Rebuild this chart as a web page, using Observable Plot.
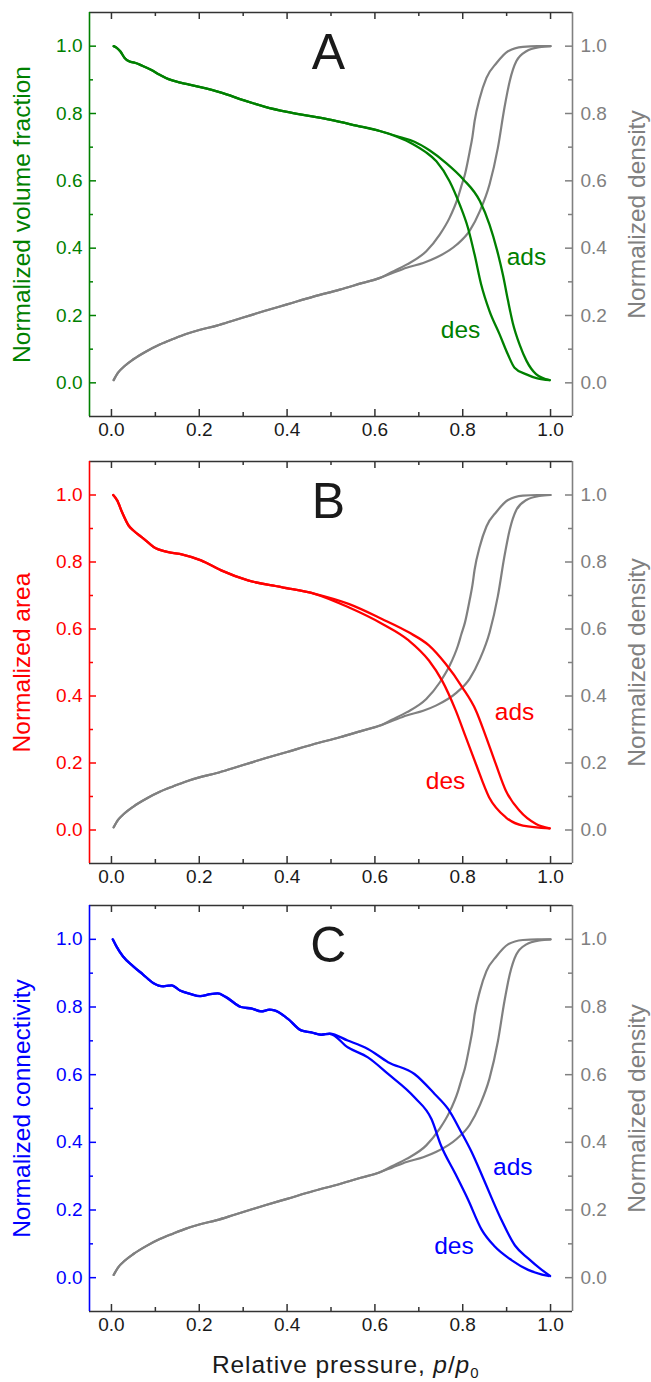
<!DOCTYPE html>
<html><head><meta charset="utf-8">
<script src="https://cdn.jsdelivr.net/npm/d3@7"></script>
<script src="https://cdn.jsdelivr.net/npm/@observablehq/plot@0.6"></script>
<style>
body{margin:0;background:#fff;font-family:"Liberation Sans",Arial,sans-serif;}
#wrap{width:651px;position:relative;}
#wrap svg{display:block;}
#xtitle{position:relative;height:35px;width:651px;font-size:24.5px;line-height:35px;color:#1a1a1a;letter-spacing:0.9px;}
#xtitle span{position:absolute;left:212px;top:0;white-space:nowrap;}
#xtitle sub{font-size:15px;vertical-align:-5px;line-height:0;}
</style></head><body><div id="wrap"></div>
<script>
// ---- axes ----
const xDomain = [-0.05, 1.05];
const yDomain = [-0.1, 1.1];
const xTicks = [0, 0.2, 0.4, 0.6, 0.8, 1.0];
const xMinor = [0.1, 0.3, 0.5, 0.7, 0.9];
const yTicks = [0, 0.2, 0.4, 0.6, 0.8, 1.0];
const yMinor = [0.1, 0.3, 0.5, 0.7, 0.9];
const panelLetters = ["A", "B", "C"];
const leftTitles = ["Normalized volume fraction", "Normalized area", "Normalized connectivity"];
const rightTitle = "Normalized density";
const xTitle = "Relative pressure, ";

// ---- normalized density (grey, same in all panels) ----
const densityShared = [[0.005,0.008],[0.015,0.03],[0.03,0.05],[0.05,0.07],[0.08,0.094],[0.11,0.114],[0.14,0.13],[0.17,0.145],[0.2,0.157],[0.24,0.17],[0.28,0.186],[0.32,0.202],[0.35,0.214],[0.4,0.233],[0.46,0.256],[0.52,0.277],[0.57,0.296],[0.61,0.311]];
const densityDes = [[0.64,0.33],[0.672,0.351],[0.717,0.391],[0.748,0.441],[0.77,0.49],[0.789,0.55],[0.797,0.585],[0.805,0.619],[0.816,0.688],[0.822,0.73],[0.827,0.777],[0.839,0.847],[0.854,0.906],[0.877,0.95],[0.903,0.985],[0.937,0.998],[0.97,1.0],[1.0,1.0]];
const densityAds = [[0.64,0.326],[0.672,0.342],[0.71,0.356],[0.74,0.372],[0.786,0.41],[0.816,0.452],[0.839,0.51],[0.861,0.589],[0.88,0.698],[0.895,0.817],[0.907,0.896],[0.922,0.955],[0.945,0.985],[0.975,0.997],[1.0,1.0]];

// ---- panel A: volume fraction ----
const volumeShared = [[0.005,1.0],[0.012,0.995],[0.02,0.985],[0.03,0.965],[0.04,0.955],[0.055,0.95],[0.07,0.942],[0.09,0.93],[0.11,0.915],[0.13,0.902],[0.157,0.892],[0.18,0.885],[0.2,0.879],[0.25,0.862],[0.3,0.84],[0.35,0.82],[0.4,0.805],[0.45,0.793],[0.5,0.781],[0.558,0.764],[0.611,0.748]];
const volumeDes = [[0.65,0.731],[0.687,0.709],[0.715,0.686],[0.74,0.658],[0.77,0.599],[0.793,0.53],[0.812,0.46],[0.827,0.381],[0.842,0.292],[0.861,0.213],[0.884,0.144],[0.903,0.084],[0.918,0.045],[0.945,0.025],[0.97,0.013],[0.998,0.008]];
const volumeAds = [[0.657,0.73],[0.69,0.716],[0.725,0.69],[0.763,0.652],[0.801,0.605],[0.839,0.54],[0.861,0.47],[0.878,0.395],[0.892,0.318],[0.903,0.245],[0.914,0.178],[0.93,0.112],[0.945,0.066],[0.967,0.026],[0.998,0.008]];

// ---- panel B: area ----
const areaShared = [[0.004,1.0],[0.013,0.984],[0.024,0.949],[0.039,0.909],[0.05,0.894],[0.073,0.87],[0.096,0.845],[0.127,0.83],[0.162,0.822],[0.204,0.805],[0.25,0.775],[0.311,0.745],[0.387,0.725],[0.463,0.705]];
const areaDes = [[0.54,0.665],[0.616,0.616],[0.677,0.566],[0.723,0.506],[0.753,0.446],[0.784,0.357],[0.807,0.277],[0.83,0.197],[0.86,0.098],[0.898,0.038],[0.937,0.013],[0.998,0.005]];
const areaAds = [[0.54,0.675],[0.616,0.63],[0.677,0.59],[0.723,0.551],[0.761,0.496],[0.799,0.426],[0.83,0.357],[0.852,0.282],[0.875,0.198],[0.898,0.118],[0.929,0.058],[0.967,0.018],[0.998,0.005]];

// ---- panel C: connectivity ----
const connShared = [[0.003,1.0],[0.011,0.98],[0.026,0.95],[0.049,0.921],[0.072,0.896],[0.095,0.871],[0.118,0.861],[0.13,0.863],[0.137,0.864],[0.156,0.849],[0.179,0.839],[0.202,0.832],[0.225,0.838],[0.242,0.84],[0.26,0.83],[0.295,0.8],[0.32,0.795],[0.341,0.787],[0.36,0.792],[0.371,0.79],[0.402,0.765],[0.432,0.731],[0.455,0.725],[0.478,0.718],[0.497,0.721]];
const connDes = [[0.538,0.681],[0.584,0.651],[0.63,0.602],[0.69,0.533],[0.729,0.468],[0.751,0.389],[0.782,0.31],[0.812,0.231],[0.843,0.142],[0.873,0.092],[0.911,0.052],[0.949,0.023],[0.995,0.005]];
const connAds = [[0.538,0.701],[0.584,0.676],[0.63,0.637],[0.69,0.602],[0.736,0.543],[0.767,0.498],[0.797,0.429],[0.82,0.372],[0.843,0.305],[0.865,0.238],[0.888,0.171],[0.919,0.095],[0.949,0.057],[0.98,0.023],[0.999,0.005]];

// ---- curve labels (ads, des) and panel letter positions ----
const labelsA = [{t:"ads",x:0.945,y:0.372},{t:"des",x:0.795,y:0.157}];
const labelsB = [{t:"ads",x:0.918,y:0.351},{t:"des",x:0.761,y:0.147}];
const labelsC = [{t:"ads",x:0.914,y:0.327},{t:"des",x:0.78,y:0.092}];
const letterPos = {x:0.494, y:0.98};

const GREY = "#808080", DARK = "#333";
const FONT = "'Liberation Sans', Arial, sans-serif";

function panel({shared, des, ads, color, letter, title, labels, marginTop, frameH, marginBottom}) {
  const marginLeft = 89, marginRight = 79, width = 651;
  const W = width - marginLeft - marginRight;
  const H = frameH;
  const fmt = d3.format(".1f");
  const px = d => d[0], py = d => d[1];
  return Plot.plot({
    width, height: marginTop + H + marginBottom,
    marginLeft, marginRight, marginTop, marginBottom,
    x: {domain: xDomain, label: null},
    y: {domain: yDomain, label: null},
    style: {fontFamily: FONT, fontSize: "19px", background: "white", overflow: "visible"},
    marks: [
      // grey density curves
      Plot.line(densityShared.concat(densityDes), {x: px, y: py, stroke: GREY, strokeWidth: 2.2, curve: "monotone-x"}),
      Plot.line(densityShared.concat(densityAds), {x: px, y: py, stroke: GREY, strokeWidth: 2.2, curve: "monotone-x"}),
      // coloured curves
      Plot.line(shared.concat(des), {x: px, y: py, stroke: color, strokeWidth: 2.3, curve: "monotone-x"}),
      Plot.line(shared.concat(ads), {x: px, y: py, stroke: color, strokeWidth: 2.3, curve: "monotone-x"}),
      // frame
      Plot.ruleY([yDomain[0], yDomain[1]], {stroke: DARK, strokeWidth: 1.6}),
      Plot.ruleX([xDomain[0]], {stroke: color, strokeWidth: 1.6}),
      Plot.ruleX([xDomain[1]], {stroke: GREY, strokeWidth: 1.6}),
      // inward ticks: bottom & top
      Plot.tickX(xTicks, {x: d => d, insetTop: H - 7, stroke: DARK, strokeWidth: 1.5}),
      Plot.tickX(xMinor, {x: d => d, insetTop: H - 4, stroke: DARK, strokeWidth: 1.5}),
      Plot.tickX(xTicks, {x: d => d, insetBottom: H - 7, stroke: DARK, strokeWidth: 1.5}),
      Plot.tickX(xMinor, {x: d => d, insetBottom: H - 4, stroke: DARK, strokeWidth: 1.5}),
      // inward ticks: left & right
      Plot.tickY(yTicks, {y: d => d, insetRight: W - 7, stroke: color, strokeWidth: 1.5}),
      Plot.tickY(yMinor, {y: d => d, insetRight: W - 4, stroke: color, strokeWidth: 1.5}),
      Plot.tickY(yTicks, {y: d => d, insetLeft: W - 7, stroke: GREY, strokeWidth: 1.5}),
      Plot.tickY(yMinor, {y: d => d, insetLeft: W - 4, stroke: GREY, strokeWidth: 1.5}),
      // tick labels
      Plot.axisX(xTicks, {anchor: "bottom", tickSize: 0, tickPadding: 6, tickFormat: fmt, color: "#1a1a1a", fontSize: 19, label: null}),
      Plot.axisY(yTicks, {anchor: "left", tickSize: 0, tickPadding: 7, tickFormat: fmt, color, fontSize: 19, label: null}),
      Plot.axisY(yTicks, {anchor: "right", tickSize: 0, tickPadding: 8, tickFormat: fmt, color: GREY, fontSize: 19, label: null}),
      // axis titles
      Plot.text([title], {text: d => d, frameAnchor: "left", textAnchor: "middle", lineAnchor: "middle", rotate: -90, dx: -67, fill: color, fontSize: 24.5}),
      Plot.text([rightTitle], {text: d => d, frameAnchor: "right", textAnchor: "middle", lineAnchor: "middle", rotate: -90, dx: 65, fill: GREY, fontSize: 24.5}),
      // curve labels
      Plot.text(labels, {x: "x", y: "y", text: "t", fill: color, fontSize: 24.5}),
      // panel letter
      Plot.text([letter], {x: () => letterPos.x, y: () => letterPos.y, text: d => d, fill: "#1a1a1a", fontSize: 50})
    ]
  });
}

const wrap = document.getElementById("wrap");
wrap.appendChild(panel({shared: volumeShared, des: volumeDes, ads: volumeAds, color: "#008000", letter: panelLetters[0], title: leftTitles[0], labels: labelsA, marginTop: 12, frameH: 404, marginBottom: 32}));
wrap.appendChild(panel({shared: areaShared, des: areaDes, ads: areaAds, color: "#ff0000", letter: panelLetters[1], title: leftTitles[1], labels: labelsB, marginTop: 13, frameH: 402, marginBottom: 31}));
wrap.appendChild(panel({shared: connShared, des: connDes, ads: connAds, color: "#0000ff", letter: panelLetters[2], title: leftTitles[2], labels: labelsC, marginTop: 11, frameH: 406, marginBottom: 36}));

const xt = document.createElement("div");
xt.id = "xtitle";
const sp = document.createElement("span");
sp.appendChild(document.createTextNode(xTitle));
const i1 = document.createElement("i"); i1.textContent = "p"; sp.appendChild(i1);
sp.appendChild(document.createTextNode("/"));
const i2 = document.createElement("i"); i2.textContent = "p"; sp.appendChild(i2);
const sb = document.createElement("sub"); sb.textContent = "0"; sp.appendChild(sb);
xt.appendChild(sp);
wrap.appendChild(xt);
</script>
</body></html>
